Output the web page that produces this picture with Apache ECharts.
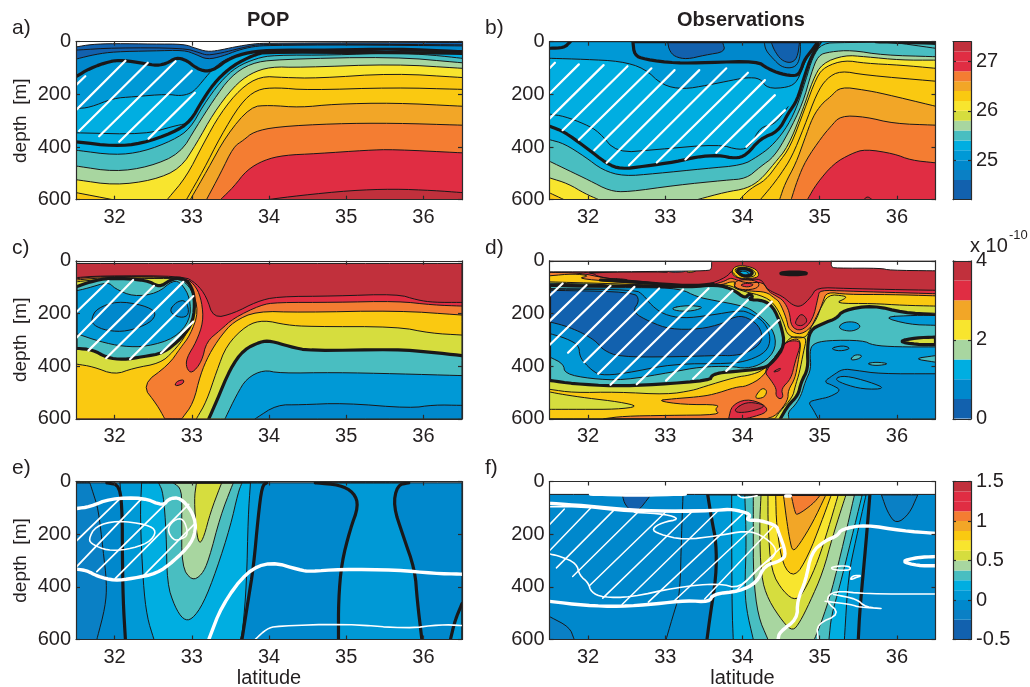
<!DOCTYPE html>
<html><head><meta charset="utf-8">
<script src="https://cdn.jsdelivr.net/npm/echarts@6/dist/echarts.min.js"></script>
<style>html,body{margin:0;padding:0;background:#fff}#c{width:1030px;height:687px}</style></head>
<body><div id="c"></div>
<script>
const latTicks=[32,33,34,35,36];
const depthTicks=[0,200,400,600];
// a) POP potential density
const a_levels=[24.4,null,24.8,25.0,25.2,null,null,25.4,25.6,26.0,26.2,null,26.4,26.6,26.8,27.2];
const a_heavy=[3,6];
const a_iso=[
[[31.5,20],[31.7,10],[32,7],[32.5,9],[32.9,9],[33.05,25],[33.2,38],[33.35,33],[33.55,20],[33.8,8],[34,5],[36.5,3]],
[[31.5,32],[32,23],[32.9,24],[33.1,42],[33.2,52],[33.4,42],[33.6,27],[33.8,13],[34,10],[35,9],[36.5,12]],
[[31.5,66],[31.75,48],[32,38],[32.5,35],[32.9,32],[33.05,48],[33.2,68],[33.4,55],[33.6,32],[33.8,18],[34,14],[35,12],[36.5,16]],
[[31.5,133],[31.68,101],[31.94,74],[32.11,70],[32.37,82],[32.55,91],[32.68,82],[32.8,60],[32.93,70],[33.06,101],[33.19,114],[33.32,101],[33.45,70],[33.67,44],[33.97,32],[34.84,32],[35.61,27],[36.5,38]],
[[31.5,254],[31.68,250],[31.98,215],[32.24,209],[32.68,199],[32.85,206],[32.98,197],[33.06,178],[33.15,146],[33.28,101],[33.45,63],[33.76,38],[33.97,33],[36.5,40]],
[[31.5,346],[32.4,352],[32.76,321],[32.93,311]],
[[31.5,380],[32,397],[32.35,387],[32.76,345],[32.98,304],[33.15,216],[33.32,146],[33.54,89],[33.8,51],[33.97,38],[36.5,44]],
[[31.5,412],[32,431],[32.37,418],[32.76,374],[32.98,330],[33.15,241],[33.37,152],[33.58,95],[33.84,63],[34.06,51],[34.84,51],[35.61,42],[36.13,51],[36.5,63]],
[[31.5,472],[32,494],[32.45,475],[32.85,425],[33.06,323],[33.28,222],[33.5,133],[33.76,82],[34.1,67],[35.61,57],[36.5,80]],
[[31.5,524],[32,545],[32.5,526],[32.85,482],[33.06,387],[33.28,272],[33.54,171],[33.76,120],[34.02,95],[34.4,98],[35.61,85],[36.5,101]],
[[31.5,573],[31.98,600],[32.68,600],[32.93,513],[33.15,387],[33.37,272],[33.63,178],[33.89,131],[34.19,136],[34.62,139],[35.61,120],[36.5,136]],
[[32.93,600],[33.15,488],[33.37,361],[33.63,235],[33.84,181],[34.1,174],[34.5,184],[35.61,174],[36.5,181]],
[[32.98,600],[33.2,488],[33.45,355],[33.76,247],[34,241],[34.4,250],[34.84,237],[35.61,232],[36.5,245]],
[[33.19,600],[33.37,501],[33.54,399],[33.67,374],[33.8,342],[34.1,323],[34.84,311],[35.61,309],[36.5,317]],
[[33.37,600],[33.54,552],[33.71,488],[33.93,450],[34.19,431],[34.62,425],[35.27,412],[35.61,409],[36.5,422]],
[[33.97,600],[34.4,584],[35.05,565],[35.61,559],[36.13,565],[36.5,573]]
];
const a_hatch=[[[31.5,165],[31.62,131]],[[31.5,260],[32.14,72]],[[31.54,339],[32.43,80]],[[31.8,359],[32.79,74]],[[32.06,380],[33,110]],[[32.44,368],[33.04,194]]];
// b) Observations potential density
const b_levels=[25.0,null,24.8,24.4,24.6,24.4,25.2,null,null,25.4,null,null,25.6,26.0,26.2,null,26.4,26.6,26.8,27.2];
const b_heavy=[1,2,8,10];
const b_iso=[
[[31.5,0],[36.5,0],[36.5,600],[31.5,600],[31.5,0]],
[[31.5,25],[31.69,23],[31.77,0]],
[[32.58,0],[32.6,51],[32.73,67],[33.14,82],[33.55,79],[34.19,74],[34.32,101],[34.5,123],[34.69,131],[34.75,114],[34.8,70],[34.87,44],[34.98,0],[32.58,0]],
[[33.03,0],[33.05,32],[33.12,57],[33.28,67],[33.51,51],[33.78,38],[33.74,0],[33.03,0]],
[[34.28,0],[34.3,32],[34.39,63],[34.5,95],[34.62,101],[34.71,89],[34.75,51],[34.75,0],[34.28,0]],
[[34.37,0],[34.41,32],[34.5,70],[34.62,82],[34.71,63],[34.74,0],[34.37,0]],
[[31.5,63],[31.96,67],[32.42,74],[32.73,101],[32.96,165],[33.23,181],[33.55,165],[33.87,146],[34.05,136],[34.23,139],[34.32,178],[34.59,174],[34.71,152],[34.8,82],[34.89,32],[34.99,0],[36.5,0]],
[[31.5,275],[31.69,283],[31.96,313],[32.14,342],[32.37,422],[32.87,410],[33.69,389],[33.96,412],[34.1,399],[34.23,323],[34.41,317],[34.59,247]],
[[31.5,321],[31.69,342],[31.96,399],[32.24,463],[32.42,484],[32.73,473],[33.14,456],[33.41,437],[33.69,431],[33.91,444],[34.05,431],[34.23,368],[34.46,342],[34.59,273],[34.71,222],[34.8,133],[34.89,57],[35.01,0]],
[[31.5,372],[31.69,387],[31.96,437],[32.19,488],[32.46,511],[32.87,501],[33.51,482],[34,469],[34.19,437],[34.37,399],[34.55,336],[34.69,260],[34.82,146],[34.91,57],[35.03,6],[35.3,3],[36.5,0]],
[[35.73,0],[36.5,6]],
[[35.9,0],[36.5,25]],
[[31.5,454],[31.74,488],[32.01,526],[32.28,567],[32.51,571],[33.14,545],[33.78,526],[34.05,520],[34.23,475],[34.41,437],[34.59,349],[34.78,235],[34.89,120],[34.98,51],[35.14,38],[35.41,32],[35.82,51],[36.5,57]],
[[31.5,517],[31.74,539],[31.96,577],[32.14,600],[33.41,600],[33.78,571],[34.05,558],[34.23,526],[34.41,463],[34.59,399],[34.78,260],[34.91,146],[35.03,82],[35.32,51],[35.59,57],[36.05,70],[36.5,70]],
[[31.5,574],[31.69,600],[33.96,600],[34.1,558],[34.3,526],[34.46,463],[34.62,399],[34.8,260],[34.96,133],[35.07,95],[35.32,70],[35.59,82],[36.05,89],[36.5,101]],
[[34.23,600],[34.37,552],[34.5,501],[34.64,437],[34.8,323],[34.96,197],[35.09,139],[35.27,110],[35.59,127],[36.5,150]],
[[34.48,600],[34.55,539],[34.69,463],[34.8,374],[34.91,285],[35.03,235],[35.14,209],[35.27,171],[35.59,184],[35.82,197],[36.5,245]],
[[34.63,600],[34.71,526],[34.82,450],[35.03,361],[35.14,323],[35.27,281],[35.59,285],[35.96,311],[36.5,317]],
[[34.84,600],[34.96,539],[35.18,463],[35.41,425],[35.59,408],[35.96,425],[36.18,450],[36.5,460]],
[[35.57,600],[35.62,587],[35.68,600]]
];
const b_hatch=[[[31.5,101],[31.57,80]],[[31.5,197],[31.88,86]],[[31.5,292],[32.2,89]],[[31.67,336],[32.51,93]],[[31.88,372],[32.82,101]],[[32.08,412],[33.12,108]],[[32.24,460],[33.44,108]],[[32.53,469],[33.79,101]],[[32.89,459],[34.07,118]],[[33.26,447],[34.29,146]],[[33.66,422],[34.42,203]],[[34.05,399],[34.55,260]]];
// c) POP PV
const c_levels=[4,3.5,3,2.5,2,2,1.5,1.5,1,0.5,1,0.5,0.5,3.5];
const c_heavy=[6,7];
const c_iso=[
[[31.5,10],[36.5,10],[36.5,600],[31.5,600],[31.5,10]],
[[31.5,64],[31.81,57],[32.89,57],[33.06,86],[33.19,136],[33.28,218],[33.54,200],[33.84,155],[34.1,136],[34.84,134],[35.66,126],[35.92,149],[36.13,158],[36.5,158]],
[[31.5,68],[31.81,59],[32.92,62],[33.06,99],[33.13,155],[33.15,231],[33.06,307],[32.93,370],[32.93,408],[33,429],[33.13,383],[33.19,307],[33.37,263],[33.54,218],[33.89,168],[34.1,158],[34.84,158],[35.66,153],[36.13,168],[36.5,172]],
[[31.5,73],[31.81,65],[32.24,61],[32.95,64],[33,105],[33.09,193],[32.98,282],[32.85,332],[32.7,395],[32.35,471],[32.55,547],[32.65,600],[32.87,600],[33.02,541],[33.11,433],[33.22,357],[33.37,288],[33.54,231],[33.84,191],[34.4,196],[35.66,189],[36.5,206]],
[[31.5,80],[31.81,70],[32.5,67],[32.85,67],[33,107],[33.06,181],[32.93,282],[32.76,345],[32.59,389],[32.24,408],[32,433],[31.72,402],[31.5,392],[31.5,80]],
[[33.06,600],[33.19,534],[33.32,421],[33.45,320],[33.71,244],[33.93,225],[34.23,244],[34.53,250],[35.66,250],[36.09,275],[36.5,282]],
[[31.5,99],[31.68,80],[31.94,64],[32.42,73],[32.58,101],[32.72,73],[32.85,63],[32.98,86],[33.04,143],[33.02,231],[32.87,294],[32.63,351],[32.37,364],[32.11,376],[31.9,368],[31.72,338],[31.5,332],[31.5,99]],
[[33.22,600],[33.32,534],[33.5,408],[33.67,338],[33.89,307],[34.02,304],[34.27,326],[34.53,342],[35.66,336],[36.09,347],[36.5,360]],
[[33.43,600],[33.58,509],[33.71,446],[33.93,414],[34.14,427],[34.84,424],[35.66,429],[36.5,436]],
[[33.82,600],[34.1,547],[34.4,547],[34.97,540],[35.83,560],[36.13,547],[36.5,549]],
[[31.5,114],[31.64,105],[31.92,80],[32,105],[32.24,136],[32.55,124],[32.76,73],[32.87,86],[32.98,143],[32.98,225],[32.78,294],[32.42,326],[32.11,326],[31.81,307],[31.5,276],[31.5,114]],
[[31.7,218],[31.77,181],[32.03,153],[32.37,168],[32.55,196],[32.46,237],[32.16,269],[31.9,266],[31.72,244],[31.7,218]],
[[32.7,193],[32.8,155],[32.93,149],[32.97,206],[32.85,218],[32.7,193]],
[[32.78,477],[32.8,458],[32.9,450],[32.89,467],[32.78,477]]
];
const c_hatch=[[[31.5,196],[31.92,77]],[[31.5,294],[32.24,73]],[[31.66,341],[32.51,95]],[[31.89,370],[32.89,80]],[[32.2,374],[33.02,134]],[[32.6,351],[33.02,231]]];
// d) Observations PV
const d_levels=[4,3.5,3,2.5,2,1.5,1,0.5,1,1,1,2,null,1.5,1.5,1.5,2.5,2,3,3.5,null,2.5,3.5,4,1.5,1,0.5,0,1.5,3,3.5,2.5,2,1,1.25,2,null,null,1.25,2.5,3.5,1.25,4,-1,-1];
const d_heavy=[5,11,24,33,35,36,37];
const d_iso=[
[[31.5,0],[36.5,0],[36.5,600],[31.5,600],[31.5,0]],
[[31.5,42],[32.03,42],[32.16,65],[32.67,77],[33.19,96],[33.54,93],[33.8,61],[33.86,36],[33.92,61],[34.03,74],[34.24,67],[34.31,105],[34.4,120],[34.53,137],[34.65,169],[34.76,175],[34.89,137],[34.96,101],[35.35,105],[35.91,109],[36.5,112]],
[[31.5,44],[31.9,46],[32.2,65],[32.67,82],[33.19,99],[33.54,96],[33.75,80],[33.84,65],[33.9,70],[34.05,85],[34.27,80],[34.33,115],[34.42,131],[34.53,150],[34.61,194],[34.63,251],[34.76,268],[34.91,226],[34.98,137],[35,111],[35.35,115],[35.91,120],[36.5,125]],
[[31.5,57],[31.81,49],[32.03,57],[31.85,67],[32.37,80],[32.67,86],[33.54,99],[33.75,90],[33.84,80],[33.92,80],[33.88,105],[34.09,115],[34.31,118],[34.42,143],[34.48,156],[34.57,219],[34.6,264],[34.76,283],[34.94,238],[35.04,156],[35.09,118],[35.35,128],[35.91,128],[36.5,133]],
[[31.5,80],[32.67,90],[33.32,100],[33.67,90],[33.84,93],[33.96,112],[34.31,137],[34.44,175],[34.53,232],[34.59,289],[34.81,295],[34.87,264],[35.01,181],[35.11,128],[35.32,133],[35.35,141],[35.19,162],[35.69,162],[36.08,169],[36.5,172]],
[[34.49,600],[34.59,549],[34.72,511],[34.76,460],[34.85,410],[34.84,333],[34.87,264],[35.04,238],[35.22,219],[35.3,188],[35.69,169],[36.08,197],[36.5,204]],
[[34.6,600],[34.59,574],[34.68,549],[34.76,511],[34.81,460],[34.89,410],[34.87,346],[34.91,315],[35.09,302],[35.56,302],[35.69,321],[36,327],[36.5,327]],
[[34.98,600],[34.91,562],[34.85,536],[34.98,526],[35.13,517],[35.28,492],[35.17,473],[35.05,460],[35.17,435],[35.3,410],[35.47,416],[35.78,429],[36.5,429]],
[[35.19,448],[35.32,435],[35.65,460],[35.86,486],[35.56,488],[35.3,467],[35.19,448]],
[[35.24,251],[35.32,232],[35.47,232],[35.54,251],[35.43,268],[35.3,264],[35.24,251]],
[[35.8,213],[36.25,207],[36.5,207],[36.5,245],[36.16,242],[35.8,213]],
[[36.01,306],[36.25,292],[36.5,290],[36.5,318],[36.25,318],[36.01,306]],
[[35.13,333],[35.3,321],[35.41,333],[35.26,344],[35.13,333]],
[[35.39,378],[35.45,356],[35.56,359],[35.5,374],[35.39,378]],
[[35.6,391],[35.73,384],[35.91,391],[35.73,399],[35.6,391]],
[[36.21,372],[36.5,360],[36.5,385],[36.21,372]],
[[31.5,488],[31.81,501],[32.37,498],[33.02,508],[33.36,492],[33.49,479],[33.92,441],[34.09,435],[34.27,416],[34.44,359],[34.56,311],[34.63,289],[34.76,289],[34.83,295],[34.79,346],[34.74,422],[34.68,479],[34.65,517],[34.48,574],[34.42,600],[31.5,600],[31.5,488]],
[[31.5,498],[31.68,508],[31.98,521],[32.41,536],[32.66,553],[32.37,564],[31.9,564],[31.5,564],[31.5,498]],
[[32.89,531],[33.1,524],[33.41,517],[33.62,508],[33.92,479],[34.05,477],[34.27,441],[34.4,372],[34.55,311],[34.7,293],[34.76,311],[34.72,384],[34.68,448],[34.59,492],[34.59,530],[34.44,587],[34.31,600],[32.2,600],[32.46,590],[33.02,587],[33.71,585],[33.64,564],[33.71,546],[33.23,546],[32.89,531]],
[[34.27,416],[34.48,346],[34.55,308],[34.7,302],[34.76,314],[34.68,384],[34.63,448],[34.5,486],[34.53,517],[34.48,526],[34.43,511],[34.44,486],[34.37,454],[34.27,416]],
[[34.38,424],[34.5,405],[34.48,418],[34.38,424]],
[[34.16,517],[34.25,482],[34.32,492],[34.29,517],[34.2,524],[34.16,517]],
[[33.82,600],[33.86,549],[34.05,524],[34.27,543],[34.34,574],[34.09,597],[34,600],[33.82,600]],
[[33.9,562],[34.05,536],[34.24,543],[34.29,555],[34.09,574],[33.92,577],[33.9,562]],
[[31.5,93],[32.24,96],[32.67,95],[33.32,100],[33.67,90],[33.88,109],[34.03,143],[34.09,124],[34.14,137],[34.07,147],[34.27,150],[34.4,175],[34.5,245],[34.55,321],[34.4,384],[34.27,410],[33.84,422],[33.71,425],[33.6,435],[33.58,454],[32.89,470],[32.33,476],[31.81,467],[31.5,454],[31.5,93]],
[[31.5,105],[32.67,101],[33.19,105],[33.41,137],[33.62,150],[33.97,169],[34.14,188],[34.4,257],[34.44,333],[34.27,390],[34.05,410],[33.84,400],[33.45,403],[33.1,422],[32.46,454],[32.03,448],[31.7,429],[31.68,391],[31.5,365],[31.5,105]],
[[31.5,108],[32.61,109],[32.72,131],[32.82,169],[32.98,204],[33.23,219],[33.58,207],[33.97,188],[34.09,197],[34.29,232],[34.37,295],[34.31,346],[34.09,378],[33.84,391],[33.1,391],[32.46,429],[32.16,435],[32.05,416],[31.94,384],[31.89,359],[31.88,321],[31.72,295],[31.5,276],[31.5,108]],
[[31.5,112],[32.59,118],[32.67,150],[32.57,194],[32.8,232],[33.06,260],[33.45,260],[33.75,238],[33.84,219],[34.01,207],[34.22,245],[34.27,308],[34.05,352],[33.84,361],[33.75,359],[33.1,365],[32.41,365],[32.2,340],[32.11,308],[31.98,283],[31.85,264],[31.68,245],[31.5,232],[31.5,112]],
[[33.07,179],[33.28,169],[33.51,175],[33.36,191],[33.15,191],[33.07,179]],
[[33.9,77],[34.05,70],[34.22,80],[34.2,105],[34.01,112],[33.89,99],[33.9,77]],
[[33.96,93],[34.05,84],[34.16,90],[34.07,101],[33.96,93]],
[[33.86,36],[33.92,19],[34.05,19],[34.18,32],[34.22,55],[34.16,67],[33.96,67],[33.88,57],[33.86,36]],
[[33.89,37],[33.94,25],[34.05,25],[34.14,34],[34.18,52],[34.12,62],[33.99,62],[33.89,37]],
[[33.92,36],[33.99,29],[34.07,32],[34.14,44],[34.09,58],[33.99,57],[33.92,36]],
[[33.95,42],[34.03,38],[34.09,48],[34.03,56],[33.97,52],[33.95,42]],
[[34.47,48],[34.58,43],[34.76,43],[34.85,48],[34.74,53],[34.58,53],[34.47,48]],
[[32.03,42],[32.46,38],[33.02,39]],
[[32.16,73],[32.67,82],[33.32,96],[33.62,88]],
[[33.02,32],[33.23,32],[33.28,42],[33.04,44],[33.02,32]],
[[33.26,44],[33.34,29],[33.43,32],[33.36,44],[33.26,44]],
[[32.29,67],[32.5,70],[32.52,77],[32.31,77],[32.29,67]],
[[31.5,85],[32.24,90],[32.24,96],[31.5,93],[31.5,85]],
[[34.68,232],[34.76,197],[34.85,226],[34.78,247],[34.7,245],[34.68,232]],
[[31.5,0],[33.6,0],[33.6,32],[33.55,38],[33,40],[32.3,42],[31.5,42],[31.5,0]],
[[35.15,0],[35.15,23],[35.2,28],[35.8,28],[35.9,36],[36.5,38],[36.5,0],[35.15,0]]
];
const d_hatch=[[[31.5,133],[31.67,86]],[[31.5,229],[31.98,92]],[[31.5,320],[32.29,95]],[[31.74,349],[32.6,99]],[[31.95,385],[32.92,105]],[[32.13,429],[33.23,109]],[[32.29,471],[33.56,105]],[[32.63,469],[33.87,114]],[[33.01,455],[34.07,149]],[[33.36,448],[34.38,155]],[[33.79,418],[34.47,225]]];
// e) POP difference
const e_levels=[-0.125,-0.25,0,0.125,0.25,0.375,0.5,0,0,null,null,null,null,null];
const e_heavy=[9,10,11,12,13];
const e_iso=[
[[31.5,5],[36.5,5],[36.5,600],[31.5,600],[31.5,5]],
[[31.5,5],[31.68,5],[31.72,42],[31.79,106],[31.85,259],[31.9,387],[31.88,476],[31.77,600],[31.5,600],[31.5,5]],
[[32.07,5],[32.1,132],[32.1,259],[32.11,451],[32.14,600],[33.65,600],[33.73,451],[33.8,323],[33.86,132],[33.91,17],[33.97,5],[32.07,5]],
[[32.35,5],[32.33,132],[32.37,387],[32.42,515],[32.51,600],[33.63,600],[33.66,566],[33.71,387],[33.73,132],[33.76,5],[32.35,5]],
[[32.57,5],[32.63,42],[32.67,195],[32.68,387],[32.78,476],[32.89,525],[33,525],[33.15,464],[33.32,336],[33.5,170],[33.6,42],[33.65,5],[32.57,5]],
[[32.76,5],[32.87,29],[32.87,132],[32.87,323],[33,377],[33.13,355],[33.22,298],[33.37,132],[33.52,17],[33.54,5],[32.76,5]],
[[33.06,5],[33.03,68],[33.06,195],[33.1,239],[33.16,208],[33.24,119],[33.37,17],[33.39,5],[33.06,5]],
[[34.92,13],[35.1,42],[35.16,93],[35.05,183],[34.94,310],[34.9,451],[34.9,600],[35.98,600],[35.92,451],[35.89,336],[35.74,208],[35.61,93],[35.66,14],[35.81,5],[34.6,5],[34.92,13]],
[[36.35,600],[36.41,527],[36.5,464],[36.5,600],[36.35,600]],
[[31.9,5],[32.07,14],[32.1,132],[32.1,259],[32.11,451],[32.14,600]],
[[33.97,5],[33.91,17],[33.86,132],[33.8,323],[33.73,451],[33.65,600]],
[[34.6,5],[34.92,13],[35.1,42],[35.16,93],[35.05,183],[34.94,310],[34.9,451],[34.9,600]],
[[35.81,5],[35.66,14],[35.61,93],[35.74,208],[35.89,336],[35.92,451],[35.98,600]],
[[36.35,600],[36.41,527],[36.5,464]]
];
const e_whiteThick=[
[[31.5,103],[31.68,96],[31.94,65],[32.37,61],[32.63,93],[32.7,65],[32.85,61],[33,112],[33.06,170],[33,234],[32.76,304],[32.55,349],[32.24,368],[32,377],[31.77,359],[31.64,338],[31.5,333]],
[[33.22,600],[33.39,470],[33.71,342],[34.02,304],[34.4,336],[34.53,342],[34.92,333],[35.66,336],[36.13,349],[36.5,352]]
];
const e_whiteThin=[
[[31.66,221],[31.75,170],[32.03,148],[32.42,163],[32.55,189],[32.44,234],[32.16,259],[31.9,262],[31.72,240],[31.66,221]],
[[32.68,183],[32.76,147],[32.89,138],[32.96,202],[32.85,221],[32.76,223],[32.68,183]],
[[33.82,600],[33.97,559],[34.1,549],[34.97,540],[35.79,559],[36.22,543],[36.5,547]]
];
const e_hatch=[[[31.5,227],[32.07,65]],[[31.5,326],[32.35,65]],[[31.77,342],[32.64,91]],[[32.01,368],[32.96,87]],[[32.37,359],[33.03,163]]];
// f) Observations difference
const f_levels=[-0.125,-0.375,-0.25,null,0,0.125,0.25,0.375,0.5,0.625,0.75,0.875,1,-0.25,null,null,-1];
const f_heavy=[14,15];
const f_iso=[
[[31.5,0],[36.5,0],[36.5,600],[31.5,600],[31.5,0]],
[[32.44,48],[32.48,92],[32.62,124],[32.82,48],[32.44,48]],
[[31.5,513],[31.76,553],[31.82,600],[31.5,600],[31.5,513]],
[[33.23,48],[33.21,200],[33.19,427],[33.12,490],[33.01,600]],
[[33.55,51],[33.6,143],[33.66,232],[33.66,359],[33.58,511],[33.54,600],[35.5,600],[35.52,486],[35.6,232],[35.65,51],[33.55,51]],
[[33.86,51],[33.86,232],[33.865,486],[33.88,600],[35.32,600],[35.37,359],[35.47,219],[35.6,51],[33.86,51]],
[[34.03,51],[34.05,232],[34.03,397],[34.05,486],[34.14,600],[35.12,600],[35.15,511],[35.26,397],[35.41,219],[35.55,51],[34.03,51]],
[[34.14,51],[34.14,169],[34.14,359],[34.2,511],[34.33,600],[34.93,600],[35.02,536],[35.15,422],[35.32,219],[35.45,51],[34.14,51]],
[[34.24,51],[34.22,169],[34.24,359],[34.33,448],[34.53,536],[34.65,568],[34.74,536],[34.87,460],[35.04,346],[35.17,207],[35.28,105],[35.34,51],[34.24,51]],
[[34.33,51],[34.33,169],[34.37,340],[34.53,420],[34.7,455],[34.83,400],[34.98,300],[35.11,180],[35.24,51],[34.33,51]],
[[34.43,51],[34.44,169],[34.52,321],[34.68,365],[34.85,283],[35.02,156],[35.15,51],[34.43,51]],
[[34.53,51],[34.57,143],[34.61,219],[34.65,268],[34.74,238],[34.91,156],[35.08,51],[34.53,51]],
[[34.63,51],[34.68,118],[34.71,128],[34.91,86],[35.01,51],[34.63,51]],
[[35.8,51],[35.88,118],[35.99,162],[36.16,124],[36.27,51],[35.8,51]],
[[33.55,51],[33.6,143],[33.66,232],[33.66,359],[33.58,511],[33.54,600]],
[[35.65,51],[35.6,232],[35.52,486],[35.5,600]],
[[31.5,0],[36.5,0],[36.5,49],[31.5,49],[31.5,0]]
];
const f_whiteThick=[
[[31.5,455],[31.96,471],[32.42,475],[32.87,465],[33.28,452],[33.57,458],[33.62,427],[33.96,417],[34.19,383],[34.28,320],[34.5,301],[34.57,275],[34.46,187],[34.44,168],[34.23,147],[34.04,147],[34.12,124],[33.87,105],[33.69,109],[33.23,114],[32.55,109],[31.96,92],[31.5,83]],
[[34.46,600],[34.48,572],[34.71,522],[34.71,452],[34.82,376],[34.89,269],[35.07,225],[35.23,206],[35.28,181],[35.59,164],[36.06,187],[36.5,197]],
[[36.5,285],[36.27,288],[36.05,303],[36.27,320],[36.5,320]],
[[32.03,48],[32.64,52],[33.26,48]],
[[34.56,55],[34.62,55]]
];
const f_whiteThin=[
[[31.5,96],[31.96,96],[32.55,117],[32.96,110],[33.6,108]],
[[31.5,275],[31.65,285],[31.85,311],[31.89,357],[32,383],[32.04,421],[32.19,440],[32.55,440],[33.14,402],[33.69,386],[33.96,408],[34.23,320],[34.41,288],[34.44,250],[34.23,200],[34.03,187],[33.69,206],[33.23,222],[32.92,200],[32.82,181],[32.96,155],[33.19,143],[33.01,124],[32.6,117]],
[[34.98,600],[34.96,541],[35.27,503],[35.07,452],[35.18,414],[35.59,427],[36.5,427]],
[[35.18,429],[35.48,446],[35.59,477],[35.87,484],[35.5,477],[35.41,467],[35.07,455]],
[[35.14,326],[35.27,320],[35.4,323],[35.39,338],[35.18,336],[35.14,326]],
[[35.39,374],[35.43,357],[35.55,357],[35.46,366],[35.39,374]],
[[33.94,52],[34,64],[34.19,54]]
];
const f_hatch=[[[31.5,164],[31.69,105]],[[31.5,263],[32.04,99]],[[31.59,328],[32.36,101]],[[31.8,361],[32.67,109]],[[32.02,395],[33.01,114]],[[32.19,443],[33.35,114]],[[32.44,467],[33.69,109]],[[32.78,458],[34,124]],[[33.12,452],[34.14,174]],[[33.51,446],[34.39,174]],[[33.94,408],[34.5,250]]];
// colour bars
const cb1_edges=[24.2,24.6,24.8,25,25.2,25.4,25.6,25.8,26,26.2,26.4,26.6,26.8,27,27.2,27.4];
const cb1_ticks=[25,26,27];
const cb2_edges=[0,0.5,1,1.5,2,2.5,3,3.5,4];
const cb2_ticks=[0,2,4];
const cb3_edges=[-0.5,-0.25,-0.125,0,0.125,0.25,0.375,0.5,0.625,0.75,0.875,1,1.125,1.25,1.375,1.5];
const cb3_ticks=[-0.5,0,0.5,1,1.5];

const INK='#231f20', LINE='#1a1819', FONT='"Liberation Sans",Arial,sans-serif';
const P=['#1261ae','#0a80c5','#0088cc','#0099d6','#00aee1','#49bec1','#a8d6a0','#d6dd3e','#f8e52e','#fac911','#f2a627','#f47d32','#e02d43','#e02d43','#c1303c'];
const PV={'0':P[0],'0.5':P[2],'1':P[3],'1.25':P[4],'1.5':P[5],'2':P[7],'2.5':P[9],'3':P[11],'3.5':P[12],'4':P[14]};
const cb2_colors=[P[0],P[2],P[4],P[6],P[8],P[10],P[12],P[14]];
const colSigma=v=>P[Math.round((v-24.4)/0.2)];
const colPV=v=>PV[String(v)];
const colDiff=v=>P[Math.round((v+0.375)/0.125)];

function smooth(pts,closed,topDepth){
  const pinned=p=>p[0]<=31.5||p[0]>=36.5||p[1]>=600||p[1]<=topDepth;
  let cur=pts;
  for(let k=0;k<2;k++){
    const out=[];
    if(pinned(cur[0])||!closed) out.push(cur[0]);
    for(let i=0;i<cur.length-1;i++){
      const a=cur[i],b=cur[i+1];
      out.push([.75*a[0]+.25*b[0],.75*a[1]+.25*b[1]]);
      out.push([.25*a[0]+.75*b[0],.25*a[1]+.75*b[1]]);
      if(pinned(b)||(!closed&&i===cur.length-2)) out.push(b);
    }
    if(closed&&(out[0][0]!==out[out.length-1][0]||out[0][1]!==out[out.length-1][1])) out.push(out[0]);
    cur=out;
  }
  return cur;
}
function buildItems(levels,heavy,iso,col,hatch,wThick,wThin,hatchW,topDepth){
  const items=[];
  iso.forEach((pts,i)=>{
    const f=pts[0],l=pts[pts.length-1],closed=f[0]===l[0]&&f[1]===l[1];
    const s=smooth(pts,closed,topDepth),lv=levels[i];
    const mask=lv===-1;
    let poly=null;
    if(lv!==null&&lv!==undefined){
      poly=closed?s:s.concat([[l[0],600],[f[0],600]]);
    }
    items.push({poly,line:s,fill:mask?'#fff':(lv===null?null:col(lv)),stroke:LINE,width:heavy.includes(i)?3.2:1,
      zf:mask?5000:i,zl:mask?5001:1000+i+(heavy.includes(i)?1000:0)});
  });
  (wThin||[]).forEach((p,i)=>{const f=p[0],l=p[p.length-1];items.push({line:smooth(p,f[0]===l[0]&&f[1]===l[1],topDepth),stroke:'#fff',width:1.6,zl:6000+i});});
  (wThick||[]).forEach((p,i)=>items.push({line:smooth(p,false,topDepth),stroke:'#fff',width:3.4,zl:6100+i}));
  hatch.forEach((p,i)=>items.push({line:p,stroke:'#fff',width:hatchW,zl:6200+i}));
  return items;
}
const panels=[
 {left:76,top:41.7,items:buildItems(a_levels,a_heavy,a_iso,colSigma,a_hatch,null,null,2.2,0)},
 {left:549.5,top:41.7,items:buildItems(b_levels,b_heavy,b_iso,colSigma,b_hatch,null,null,2.2,0)},
 {left:76,top:260.8,items:buildItems(c_levels,c_heavy,c_iso,colPV,c_hatch,null,null,2.2,10)},
 {left:549.5,top:260.8,items:buildItems(d_levels,d_heavy,d_iso,colPV,d_hatch,null,null,2.2,0)},
 {left:76,top:481.5,items:buildItems(e_levels,e_heavy,e_iso,colDiff,e_hatch,e_whiteThick,e_whiteThin,1.7,5)},
 {left:549.5,top:481.5,items:buildItems(f_levels,f_heavy,f_iso,colDiff,f_hatch,f_whiteThick,f_whiteThin,1.5,51)}
];
const bars=[
 {top:41.7,edges:cb1_edges,ticks:cb1_ticks,colors:P},
 {top:260.8,edges:cb2_edges,ticks:cb2_ticks,colors:cb2_colors},
 {top:481.5,edges:cb3_edges,ticks:cb3_ticks,colors:P}
];
const grid=[],xAxis=[],yAxis=[],series=[];
const labelStyle={color:INK,fontFamily:FONT,fontSize:20};
const lineStyle={color:'#2b2b2b',width:1.2};
panels.forEach((p,i)=>{
  grid.push({left:p.left,top:p.top,width:386,height:158,outerBoundsMode:'none',containLabel:false});
  const g=grid.length-1, xi=xAxis.length, yi=yAxis.length;
  const bottomRow=i>=4, leftCol=i%2===0;
  xAxis.push({type:'value',gridIndex:g,position:'bottom',min:31.5,max:36.5,z:5,
    axisLine:{show:true,onZero:false,lineStyle},splitLine:{show:false},
    axisTick:{show:true,inside:true,length:4,customValues:latTicks,lineStyle},
    axisLabel:{...labelStyle,margin:8,customValues:latTicks,formatter:v=>String(v)},
    name:bottomRow?'latitude':'',nameLocation:'middle',nameGap:28,nameTextStyle:{...labelStyle,fontSize:20}});
  xAxis.push({type:'value',gridIndex:g,position:'top',min:31.5,max:36.5,z:5,
    axisLine:{show:true,onZero:false,lineStyle},splitLine:{show:false},
    axisTick:{show:true,inside:true,length:4,customValues:latTicks,lineStyle},axisLabel:{show:false}});
  yAxis.push({type:'value',gridIndex:g,position:'left',inverse:true,min:0,max:600,interval:200,z:5,
    axisLine:{show:true,onZero:false,lineStyle},splitLine:{show:false},
    axisTick:{show:true,inside:true,length:4,lineStyle},
    axisLabel:{...labelStyle,margin:5,showMinLabel:true,showMaxLabel:true,hideOverlap:false},
    name:leftCol?'depth  [m]':'',nameLocation:'middle',nameGap:46,nameRotate:90,nameTextStyle:{...labelStyle,fontSize:19}});
  yAxis.push({type:'value',gridIndex:g,position:'right',inverse:true,min:0,max:600,interval:200,z:5,
    axisLine:{show:true,onZero:false,lineStyle},splitLine:{show:false},
    axisTick:{show:true,inside:true,length:4,lineStyle},axisLabel:{show:false}});
  const items=p.items;
  series.push({type:'custom',coordinateSystem:'cartesian2d',xAxisIndex:xi,yAxisIndex:yi,clip:true,silent:true,animation:false,
    data:items.map((_,k)=>[k]),
    renderItem(params,api){
      const it=items[api.value(0)], children=[];
      const map=a=>a.map(q=>api.coord(q));
      if(it.poly&&it.fill) children.push({type:'polygon',z2:it.zf,shape:{points:map(it.poly)},style:{fill:it.fill,stroke:null}});
      children.push({type:'polyline',z2:it.zl,shape:{points:map(it.line)},style:{fill:null,stroke:it.stroke,lineWidth:it.width,lineJoin:'round',lineCap:'round'}});
      return {type:'group',children};
    }});
});
bars.forEach(b=>{
  grid.push({left:953,top:b.top,width:18,height:158,outerBoundsMode:'none',containLabel:false});
  const g=grid.length-1, xi=xAxis.length, yi=yAxis.length;
  const E=b.edges, lo=E[0], hi=E[E.length-1];
  xAxis.push({type:'value',gridIndex:g,position:'bottom',min:0,max:1,z:5,axisLine:{show:true,onZero:false,lineStyle},axisTick:{show:false},axisLabel:{show:false},splitLine:{show:false}});
  xAxis.push({type:'value',gridIndex:g,position:'top',min:0,max:1,z:5,axisLine:{show:true,onZero:false,lineStyle},axisTick:{show:false},axisLabel:{show:false},splitLine:{show:false}});
  yAxis.push({type:'value',gridIndex:g,position:'right',min:lo,max:hi,z:5,axisLine:{show:true,onZero:false,lineStyle},splitLine:{show:false},
    axisTick:{show:true,inside:true,length:3,customValues:b.ticks,lineStyle},
    axisLabel:{...labelStyle,margin:5,customValues:b.ticks,formatter:v=>String(v),hideOverlap:false}});
  yAxis.push({type:'value',gridIndex:g,position:'left',min:lo,max:hi,z:5,axisLine:{show:true,onZero:false,lineStyle},splitLine:{show:false},axisTick:{show:true,inside:true,length:3,customValues:b.ticks,lineStyle},axisLabel:{show:false}});
  series.push({type:'custom',coordinateSystem:'cartesian2d',xAxisIndex:xi,yAxisIndex:yi,clip:true,silent:true,animation:false,
    data:E.slice(0,-1).map((v,k)=>[0,v,E[k+1],k]),
    encode:{x:0,y:1},
    renderItem(params,api){
      const a=api.coord([0,api.value(2)]),c=api.coord([1,api.value(1)]);
      return {type:'rect',shape:{x:a[0],y:a[1],width:c[0]-a[0],height:c[1]-a[1]},style:{fill:b.colors[api.value(3)],stroke:null}};
    }});
});
const text=(t,x,y,size,weight,align)=>({type:'text',left:x,top:y,silent:true,style:{text:t,fill:INK,font:(weight||'normal')+' '+size+'px '+FONT,textAlign:align||'left'}});
const graphic=[
 text('a)',12,18,21),text('b)',485,18,21),text('c)',12,238,21),text('d)',485,238,21),text('e)',12,458,21),text('f)',485,458,21),
 text('POP',247,10,20,'bold'),text('Observations',677,10,20,'bold'),
 text('x 10',970,236,20),text('-10',1009,229,13)
];
const chart=echarts.init(document.getElementById('c'),null,{renderer:'canvas'});
chart.setOption({animation:false,backgroundColor:'#fff',grid,xAxis,yAxis,series,graphic});
</script></body></html>
